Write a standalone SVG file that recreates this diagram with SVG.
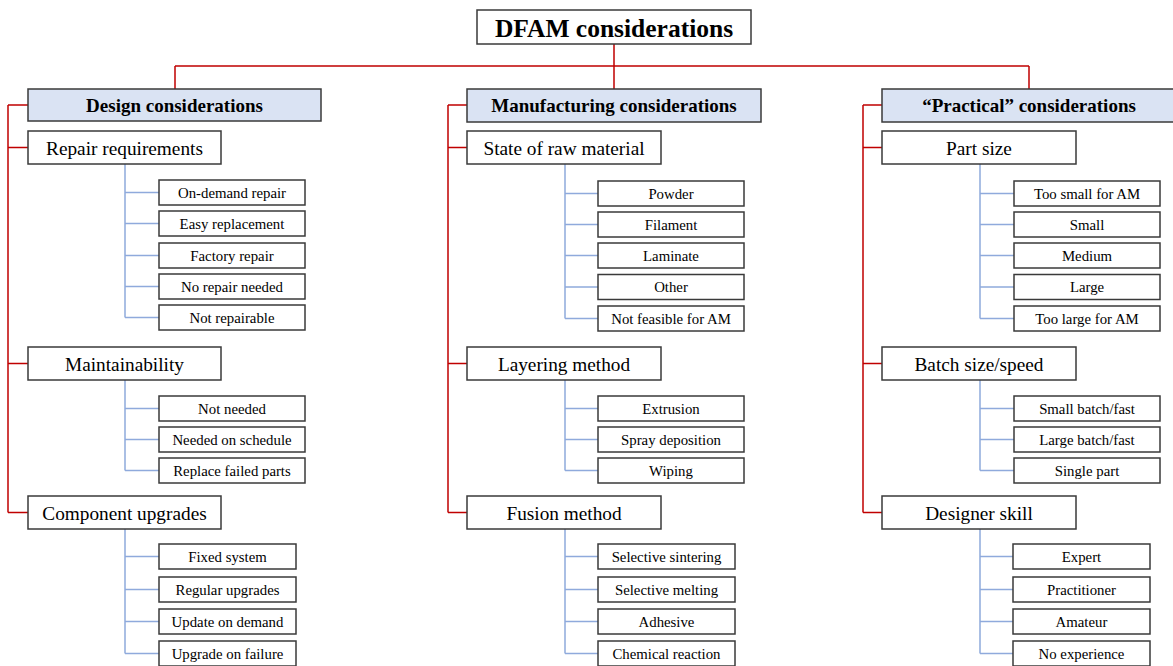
<svg xmlns="http://www.w3.org/2000/svg" width="1173" height="666" viewBox="0 0 1173 666">
<style>
.box{fill:#fff;stroke:#3a3a3a;stroke-width:1.5}
.head{fill:#dae3f3;stroke:#3a3a3a;stroke-width:1.5}
.t{font-family:"Liberation Serif","Times New Roman",serif;fill:#000;text-anchor:middle}
.root{font-size:25.5px;font-weight:bold}
.h{font-size:19px;font-weight:bold}
.c{font-size:19.3px}
.i{font-size:14.8px}
.red{fill:none;stroke:#c00000;stroke-width:1.5}
.blue{fill:none;stroke:#8faadc;stroke-width:1.5}
</style>
<g id="connectors">
<path class="red" d="M614,44V66M175,66H1029M175,66V89M614,66V89M1029,66V89"/>
<path class="red" d="M8,105H28M8,105V512.5M8,147.5H28M8,363.5H28M8,512.5H28"/>
<path class="red" d="M448,105H467M448,105V512.5M448,147.5H467M448,363.5H467M448,512.5H467"/>
<path class="red" d="M863,105H882M863,105V512.5M863,147.5H882M863,363.5H882M863,512.5H882"/>
<path class="blue" d="M125,164V317.5M125,192.5H159M125,223.5H159M125,255.5H159M125,286.5H159M125,317.5H159"/>
<path class="blue" d="M125,380V470.5M125,408.5H159M125,439.5H159M125,470.5H159"/>
<path class="blue" d="M125,529V653.5M125,556.5H159M125,589.5H159M125,621.5H159M125,653.5H159"/>
<path class="blue" d="M565,164V318.5M565,193.5H598M565,224.5H598M565,255.5H598M565,287H598M565,318.5H598"/>
<path class="blue" d="M565,380V470.5M565,408.5H598M565,439.5H598M565,470.5H598"/>
<path class="blue" d="M565,529V653.5M565,556.5H598M565,589.5H598M565,621.5H598M565,653.5H598"/>
<path class="blue" d="M980,164V318.5M980,193.5H1014M980,224.5H1014M980,255.5H1014M980,287H1014M980,318.5H1014"/>
<path class="blue" d="M980,380V470.5M980,408.5H1014M980,439.5H1014M980,470.5H1014"/>
<path class="blue" d="M980,529V653.5M980,556.5H1013M980,589.5H1013M980,621.5H1013M980,653.5H1013"/>
</g>
<g id="root"><rect class="box" x="477" y="10" width="274" height="34"/><text class="t root" x="614" y="36.5">DFAM considerations</text></g>
<g id="design"><rect class="head" x="28" y="89" width="293" height="32"/><text class="t h" x="174.5" y="111.5">Design considerations</text></g>
<g id="manufacturing"><rect class="head" x="467" y="89" width="294" height="33"/><text class="t h" x="614" y="112">Manufacturing considerations</text></g>
<g id="practical"><rect class="head" x="882" y="89" width="293" height="33"/><text class="t h" x="1029" y="112">“Practical” considerations</text></g>

<g id="repair"><rect class="box" x="28" y="131" width="193" height="33"/><text class="t c" x="124.5" y="154.5">Repair requirements</text></g>
<g id="r1"><rect class="box" x="159" y="180" width="146" height="25"/><text class="t i" x="232" y="197.5">On-demand repair</text></g>
<g id="r2"><rect class="box" x="159" y="211" width="146" height="25"/><text class="t i" x="232" y="228.5">Easy replacement</text></g>
<g id="r3"><rect class="box" x="159" y="243" width="146" height="25"/><text class="t i" x="232" y="260.5">Factory repair</text></g>
<g id="r4"><rect class="box" x="159" y="274" width="146" height="25"/><text class="t i" x="232" y="291.5">No repair needed</text></g>
<g id="r5"><rect class="box" x="159" y="305" width="146" height="25"/><text class="t i" x="232" y="322.5">Not repairable</text></g>

<g id="maint"><rect class="box" x="28" y="347" width="193" height="33"/><text class="t c" x="124.5" y="370.5">Maintainability</text></g>
<g id="m1"><rect class="box" x="159" y="396" width="146" height="25"/><text class="t i" x="232" y="413.5">Not needed</text></g>
<g id="m2"><rect class="box" x="159" y="427" width="146" height="25"/><text class="t i" x="232" y="444.5">Needed on schedule</text></g>
<g id="m3"><rect class="box" x="159" y="458" width="146" height="25"/><text class="t i" x="232" y="475.5">Replace failed parts</text></g>

<g id="upgrades"><rect class="box" x="28" y="496" width="193" height="33"/><text class="t c" x="124.5" y="519.5">Component upgrades</text></g>
<g id="u1"><rect class="box" x="159" y="544" width="137" height="25"/><text class="t i" x="227.5" y="561.5">Fixed system</text></g>
<g id="u2"><rect class="box" x="159" y="577" width="137" height="25"/><text class="t i" x="227.5" y="594.5">Regular upgrades</text></g>
<g id="u3"><rect class="box" x="159" y="609" width="137" height="25"/><text class="t i" x="227.5" y="626.5">Update on demand</text></g>
<g id="u4"><rect class="box" x="159" y="641" width="137" height="25"/><text class="t i" x="227.5" y="658.5">Upgrade on failure</text></g>

<g id="raw"><rect class="box" x="467" y="131" width="194" height="33"/><text class="t c" x="564" y="154.5">State of raw material</text></g>
<g id="s1"><rect class="box" x="598" y="181" width="146" height="25"/><text class="t i" x="671" y="198.5">Powder</text></g>
<g id="s2"><rect class="box" x="598" y="212" width="146" height="25"/><text class="t i" x="671" y="229.5">Filament</text></g>
<g id="s3"><rect class="box" x="598" y="243" width="146" height="25"/><text class="t i" x="671" y="260.5">Laminate</text></g>
<g id="s4"><rect class="box" x="598" y="274.5" width="146" height="25"/><text class="t i" x="671" y="292">Other</text></g>
<g id="s5"><rect class="box" x="598" y="306" width="146" height="25"/><text class="t i" x="671" y="323.5">Not feasible for AM</text></g>

<g id="layering"><rect class="box" x="467" y="347" width="194" height="33"/><text class="t c" x="564" y="370.5">Layering method</text></g>
<g id="l1"><rect class="box" x="598" y="396" width="146" height="25"/><text class="t i" x="671" y="413.5">Extrusion</text></g>
<g id="l2"><rect class="box" x="598" y="427" width="146" height="25"/><text class="t i" x="671" y="444.5">Spray deposition</text></g>
<g id="l3"><rect class="box" x="598" y="458" width="146" height="25"/><text class="t i" x="671" y="475.5">Wiping</text></g>

<g id="fusion"><rect class="box" x="467" y="496" width="194" height="33"/><text class="t c" x="564" y="519.5">Fusion method</text></g>
<g id="f1"><rect class="box" x="598" y="544" width="137" height="25"/><text class="t i" x="666.5" y="561.5">Selective sintering</text></g>
<g id="f2"><rect class="box" x="598" y="577" width="137" height="25"/><text class="t i" x="666.5" y="594.5">Selective melting</text></g>
<g id="f3"><rect class="box" x="598" y="609" width="137" height="25"/><text class="t i" x="666.5" y="626.5">Adhesive</text></g>
<g id="f4"><rect class="box" x="598" y="641" width="137" height="25"/><text class="t i" x="666.5" y="658.5">Chemical reaction</text></g>

<g id="partsize"><rect class="box" x="882" y="131" width="194" height="33"/><text class="t c" x="979" y="154.5">Part size</text></g>
<g id="p1"><rect class="box" x="1014" y="181" width="146" height="25"/><text class="t i" x="1087" y="198.5">Too small for AM</text></g>
<g id="p2"><rect class="box" x="1014" y="212" width="146" height="25"/><text class="t i" x="1087" y="229.5">Small</text></g>
<g id="p3"><rect class="box" x="1014" y="243" width="146" height="25"/><text class="t i" x="1087" y="260.5">Medium</text></g>
<g id="p4"><rect class="box" x="1014" y="274.5" width="146" height="25"/><text class="t i" x="1087" y="292">Large</text></g>
<g id="p5"><rect class="box" x="1014" y="306" width="146" height="25"/><text class="t i" x="1087" y="323.5">Too large for AM</text></g>

<g id="batch"><rect class="box" x="882" y="347" width="194" height="33"/><text class="t c" x="979" y="370.5">Batch size/speed</text></g>
<g id="b1"><rect class="box" x="1014" y="396" width="146" height="25"/><text class="t i" x="1087" y="413.5">Small batch/fast</text></g>
<g id="b2"><rect class="box" x="1014" y="427" width="146" height="25"/><text class="t i" x="1087" y="444.5">Large batch/fast</text></g>
<g id="b3"><rect class="box" x="1014" y="458" width="146" height="25"/><text class="t i" x="1087" y="475.5">Single part</text></g>

<g id="skill"><rect class="box" x="882" y="496" width="194" height="33"/><text class="t c" x="979" y="519.5">Designer skill</text></g>
<g id="d1"><rect class="box" x="1013" y="544" width="137" height="25"/><text class="t i" x="1081.5" y="561.5">Expert</text></g>
<g id="d2"><rect class="box" x="1013" y="577" width="137" height="25"/><text class="t i" x="1081.5" y="594.5">Practitioner</text></g>
<g id="d3"><rect class="box" x="1013" y="609" width="137" height="25"/><text class="t i" x="1081.5" y="626.5">Amateur</text></g>
<g id="d4"><rect class="box" x="1013" y="641" width="137" height="25"/><text class="t i" x="1081.5" y="658.5">No experience</text></g>
</svg>
